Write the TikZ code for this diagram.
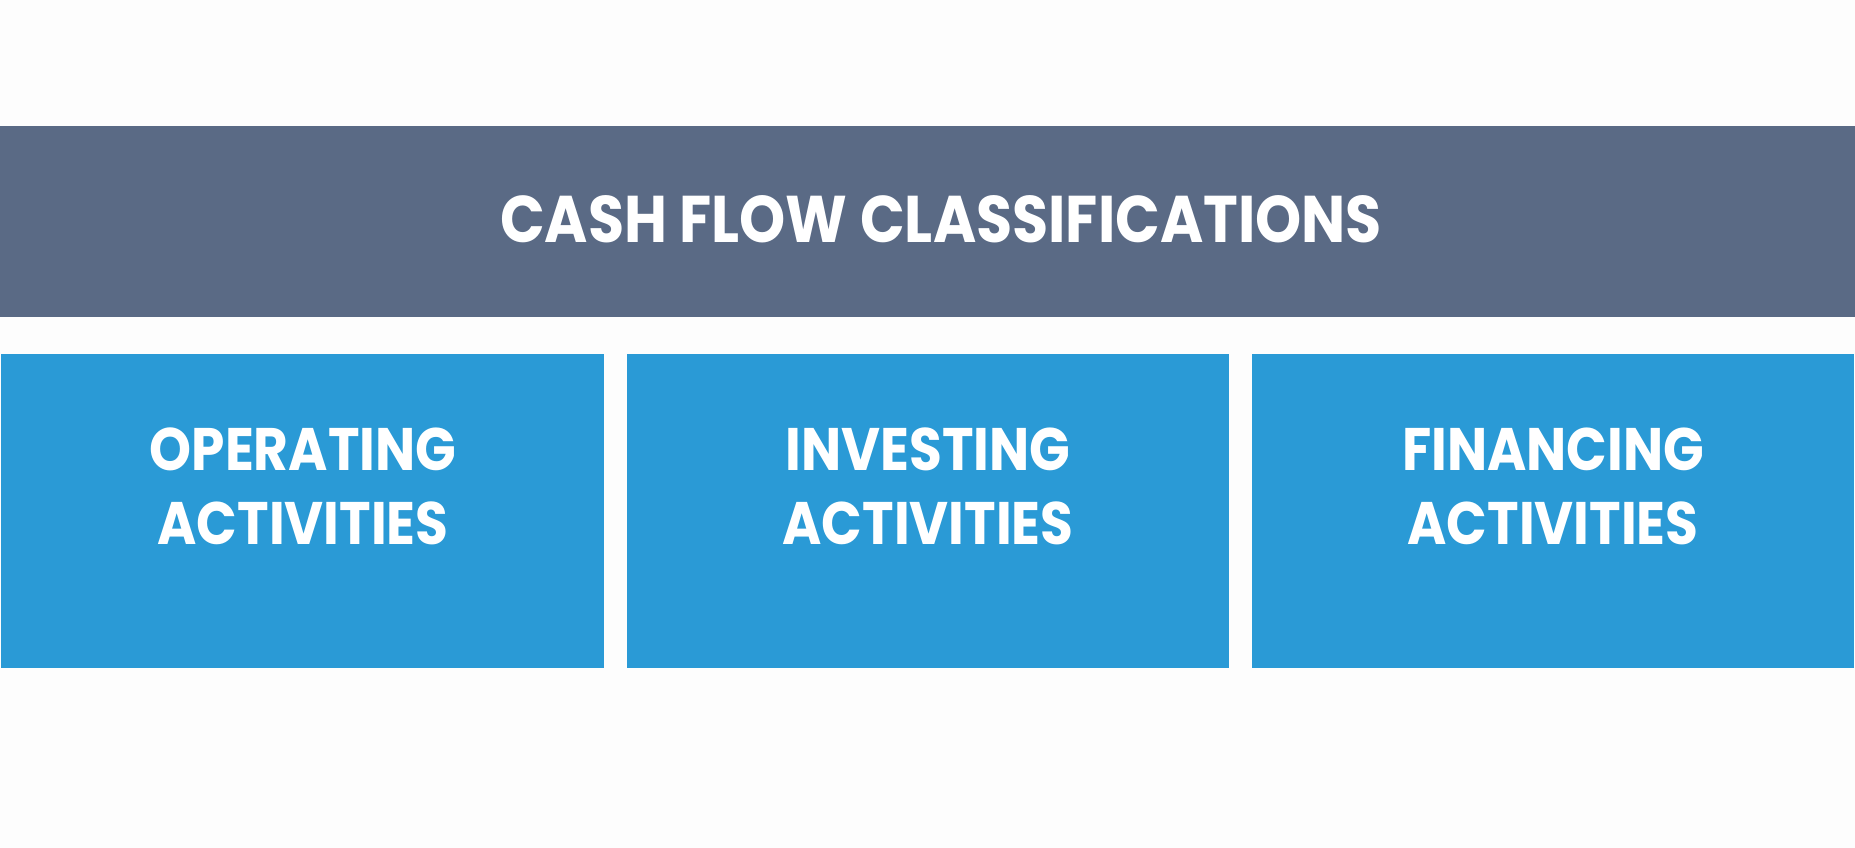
\documentclass[tikz,border=0pt]{standalone}
\usepackage{fontspec}
\setmainfont{Poppins}
\newfontfamily\titlefont{Poppins}[FakeStretch=0.89]
\newfontfamily\catfont{Poppins}[FakeStretch=0.89]
\definecolor{banner}{HTML}{5A6A85}
\definecolor{boxblue}{HTML}{2A9AD6}
\definecolor{bg}{HTML}{FDFDFD}
\begin{document}
\begin{tikzpicture}[x=1pt,y=-1pt,
  bannerbox/.style={fill=banner,draw=none},
  catbox/.style={fill=boxblue,draw=none},
  titletext/.style={text=white,font=\titlefont\fontsize{66}{70}\selectfont\bfseries,anchor=base,inner sep=0pt},
  cattext/.style={text=white,font=\catfont\fontsize{60}{68}\selectfont\bfseries,anchor=base,inner sep=0pt}]
\useasboundingbox[fill=bg] (0,0) rectangle (1855,848);
\fill[bannerbox] (0,126) rectangle (1855,317);
\node[titletext] (title) at (941,242) {CASH FLOW CLASSIFICATIONS};
\fill[catbox] (1,354) rectangle (604,668);
\fill[catbox] (627,354) rectangle (1229,668);
\fill[catbox] (1252,354) rectangle (1854,668);
\node[cattext] (op1) at (303,470) {OPERATING};
\node[cattext] (op2) at (303,544) {ACTIVITIES};
\node[cattext] (in1) at (928,470) {INVESTING};
\node[cattext] (in2) at (928,544) {ACTIVITIES};
\node[cattext] (fi1) at (1553,470) {FINANCING};
\node[cattext] (fi2) at (1553,544) {ACTIVITIES};
\end{tikzpicture}
\end{document}
